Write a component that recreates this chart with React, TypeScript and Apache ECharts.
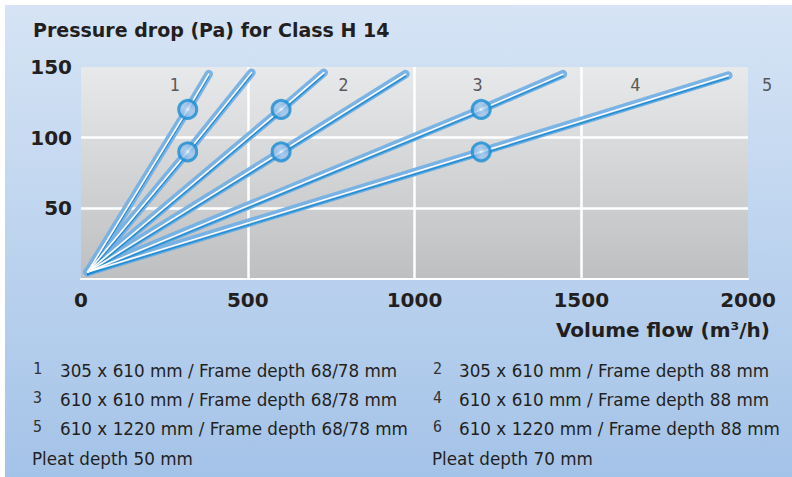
import React, { useEffect, useRef } from 'react';
import * as echarts from 'echarts';

// ---- data ----
const lineNames = ['1', '2', '3', '4', '5', '6'];
const startFlow = 20;
const startPressure = 5;
const markerFlow = [320, 320, 600, 600, 1200, 1200];
const markerPressure = [120, 90, 120, 90, 120, 90];
const endFlow = [383, 511, 728, 973, 1445, 1941];
const endPressure = [145, 146, 146, 145, 145, 144];

const topLabelTexts = ['1', '2', '3', '4', '5'];
const topLabelFlow = [281, 787, 1189, 1662, 2057];
const topLabelPressure = [137, 137, 137, 137, 137];

const xTicks = [0, 500, 1000, 1500, 2000];
const yTicks = [0, 50, 100, 150];

const legendNumbers = ['1', '2', '3', '4', '5', '6'];
const legendTexts = [
  '305 x 610 mm / Frame depth 68/78 mm',
  '305 x 610 mm / Frame depth 88 mm',
  '610 x 610 mm / Frame depth 68/78 mm',
  '610 x 610 mm / Frame depth 88 mm',
  '610 x 1220 mm / Frame depth 68/78 mm',
  '610 x 1220 mm / Frame depth 88 mm',
];
const pleatTexts = ['Pleat depth 50 mm', 'Pleat depth 70 mm'];

const titleText = 'Pressure drop (Pa) for Class H 14';
const xAxisName = 'Volume flow (m³/h)';

// ---- styles ----
const FONT = '"DejaVu Sans", "Noto Sans", sans-serif';
const MONO = '"DejaVu Sans Mono", monospace';
const TEXT = '#231f20';

function buildOption() {
  const series: any[] = [];
  lineNames.forEach((name, i) => {
    const data = [
      [startFlow, startPressure],
      [markerFlow[i], markerPressure[i]],
      [endFlow[i], endPressure[i]],
    ];
    series.push({
      type: 'line',
      name,
      data,
      symbol: 'none',
      silent: true,
      z: 2,
      lineStyle: { width: 8.5, color: 'rgba(116,176,228,0.95)', cap: 'round', join: 'round' },
    });
    series.push({
      type: 'line',
      name: name + '-core',
      data,
      symbol: 'none',
      silent: true,
      z: 3,
      lineStyle: {
        width: 1.5,
        color: '#ffffff',
        cap: 'round',
        shadowColor: '#1589cf',
        shadowBlur: 0,
        shadowOffsetY: 2.2,
      },
    });
  });

  series.push({
    type: 'scatter',
    name: 'markers',
    data: markerFlow.map((f, i) => [f, markerPressure[i]]),
    symbol: 'circle',
    symbolSize: 18,
    silent: true,
    z: 5,
    itemStyle: {
      color: new echarts.graphic.RadialGradient(0.5, 0.5, 0.5, [
        { offset: 0, color: '#ffffff' },
        { offset: 0.18, color: '#c4dbf2' },
        { offset: 0.5, color: '#a4c7ec' },
        { offset: 1, color: '#86b5e4' },
      ]),
      borderColor: '#1a8dd2',
      borderWidth: 3,
    },
  });

  series.push({
    type: 'scatter',
    name: 'line labels',
    data: topLabelFlow.map((f, i) => ({ value: [f, topLabelPressure[i]], name: topLabelTexts[i] })),
    symbolSize: 0,
    clip: false,
    silent: true,
    z: 6,
    label: {
      show: true,
      position: 'inside',
      formatter: (p: any) => p.name,
      fontFamily: MONO,
      fontSize: 17,
      color: '#333333',
    },
  });

  const graphics: any[] = [
    {
      type: 'rect',
      z: -100,
      silent: true,
      shape: { x: 5, y: 5, width: 787, height: 472 },
      style: {
        fill: new echarts.graphic.LinearGradient(0, 0, 0, 1, [
          { offset: 0, color: '#d6e4f5' },
          { offset: 1, color: '#a4c3e8' },
        ]),
      },
    },
    {
      type: 'text',
      x: 770,
      y: 330,
      style: {
        text: xAxisName,
        font: `bold 20px ${FONT}`,
        fill: TEXT,
        textAlign: 'right',
        textVerticalAlign: 'middle',
      },
    },
  ];

  const rowY = [371, 399.5, 428.5];
  legendNumbers.forEach((n, i) => {
    const col = i % 2;
    const row = Math.floor(i / 2);
    const numX = col === 0 ? 33 : 433;
    const txtX = col === 0 ? 60 : 459;
    graphics.push({
      type: 'text',
      x: numX,
      y: rowY[row] - 2,
      style: { text: n, font: `15px ${MONO}`, fill: '#333333', textVerticalAlign: 'middle' },
    });
    graphics.push({
      type: 'text',
      x: txtX,
      y: rowY[row],
      style: { text: legendTexts[i], font: `16.8px ${FONT}`, fill: TEXT, textVerticalAlign: 'middle' },
    });
  });
  pleatTexts.forEach((t, i) => {
    graphics.push({
      type: 'text',
      x: i === 0 ? 32 : 432,
      y: 458.5,
      style: { text: t, font: `16.8px ${FONT}`, fill: TEXT, textVerticalAlign: 'middle' },
    });
  });

  return {
    animation: false,
    backgroundColor: '#ffffff',
    title: {
      text: titleText,
      left: 33,
      top: 20,
      padding: 0,
      textStyle: { fontFamily: FONT, fontWeight: 'bold', fontSize: 19, color: TEXT },
    },
    grid: {
      left: 81,
      right: 44,
      top: 67,
      bottom: 198,
      show: true,
      borderWidth: 0,
      backgroundColor: new echarts.graphic.LinearGradient(0, 0, 0, 1, [
        { offset: 0, color: '#e8e9eb' },
        { offset: 1, color: '#bebfc1' },
      ]),
    },
    xAxis: {
      type: 'value',
      min: xTicks[0],
      max: xTicks[xTicks.length - 1],
      interval: xTicks[1] - xTicks[0],
      axisLine: { show: true, lineStyle: { color: '#ffffff', width: 2 } },
      axisTick: { show: false },
      splitLine: { show: true, showMinLine: false, showMaxLine: false, lineStyle: { color: '#ffffff', width: 2.5 } },
      axisLabel: {
        fontFamily: FONT,
        fontWeight: 'bold',
        fontSize: 20,
        color: TEXT,
        margin: 11,
        formatter: (v: number) => String(v),
      },
    },
    yAxis: {
      type: 'value',
      min: yTicks[0],
      max: yTicks[yTicks.length - 1],
      interval: yTicks[1] - yTicks[0],
      axisLine: { show: false },
      axisTick: { show: false },
      splitLine: { show: true, showMinLine: false, showMaxLine: false, lineStyle: { color: '#ffffff', width: 2.5 } },
      axisLabel: {
        showMinLabel: false,
        fontFamily: FONT,
        fontWeight: 'bold',
        fontSize: 20,
        color: TEXT,
        margin: 9,
        formatter: (v: number) => String(v),
      },
    },
    graphic: graphics,
    series,
  };
}

export default function App() {
  const ref = useRef<HTMLDivElement>(null);
  useEffect(() => {
    if (!ref.current) return;
    const chart = echarts.init(ref.current, null, { renderer: 'svg' });
    chart.setOption(buildOption() as any);
    return () => chart.dispose();
  }, []);
  return (
    <div
      ref={ref}
      style={{ position: 'absolute', left: 0, top: 0, width: 792, height: 477 }}
    />
  );
}
